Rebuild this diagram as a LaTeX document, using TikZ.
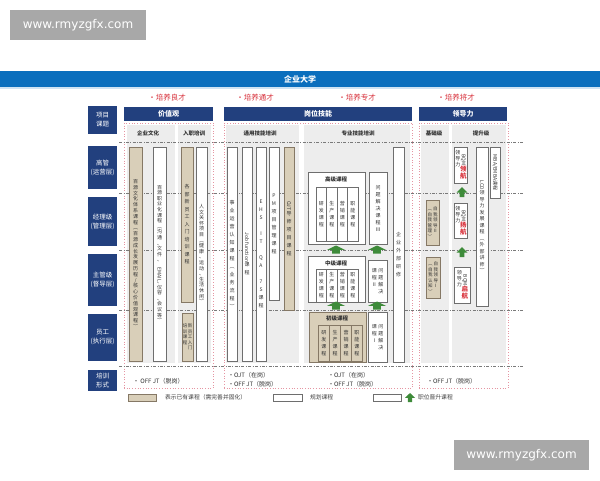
\documentclass[tikz,border=0pt]{standalone}
\usepackage{fontspec}
\usepackage{graphicx}
\setmainfont{Noto Sans CJK SC}
\newfontfamily\wmfont{DejaVu Sans}
\definecolor{navy}{HTML}{22407E}
\definecolor{bannerC}{HTML}{0A6EBD}
\definecolor{bannerL}{HTML}{CFE3F3}
\definecolor{tanC}{HTML}{D9CFB9}
\definecolor{tanB}{HTML}{857865}
\definecolor{planB}{HTML}{6E6E6E}
\definecolor{panelC}{HTML}{EDEDED}
\definecolor{pinkC}{HTML}{E595A2}
\definecolor{sepC}{HTML}{7A7A7A}
\definecolor{redC}{HTML}{D8313B}
\definecolor{arrowC}{HTML}{3E8B3A}
\definecolor{wmC}{HTML}{A8A8A8}
\definecolor{txtC}{HTML}{333333}
\newlength\vtw
\setlength\vtw{6pt}
\makeatletter
\newcommand\vtext[2][7pt]{\vtop{\baselineskip=#1\lineskiplimit=0pt\lineskip=0.6pt\@tfor\vch:=#2\do{\hbox to\vtw{\hss\vch\hss}}}}
\makeatother
\newcommand\bx[7]{\node[#2,minimum width={#5pt-#3pt},minimum height={#6pt-#4pt},inner sep=0pt,outer sep=0pt] (#1) at ({(#3+#5)/2},{(#4+#6)/2}) {#7};}
\newcommand\garrow[4]{\fill[arrowC] ({#1},{#2-#4/2}) -- ({#1+#3/2},{#2+0.05*#4}) -- ({#1+0.22*#3},{#2+0.05*#4}) -- ({#1+0.22*#3},{#2+#4/2}) -- ({#1-0.22*#3},{#2+#4/2}) -- ({#1-0.22*#3},{#2+0.05*#4}) -- ({#1-#3/2},{#2+0.05*#4}) -- cycle;}
\begin{document}
\begin{tikzpicture}[x=1pt,y=-1pt,
  every node/.style={inner sep=0pt,outer sep=0pt},
  hdr/.style={fill=navy,text=white,font=\fontsize{7}{8}\selectfont\bfseries},
  side/.style={fill=navy,text=white,align=center,font=\fontsize{6.5}{9}\selectfont},
  sect/.style={draw=pinkC,dotted,line width=0.7pt},
  panel/.style={fill=panelC},
  tanbox/.style={fill=tanC,draw=tanB,line width=0.6pt,text=txtC,font=\fontsize{5}{6}\selectfont},
  planbox/.style={fill=white,draw=planB,line width=0.6pt,text=txtC,font=\fontsize{5}{6}\selectfont},
  sub/.style={text=txtC,font=\fontsize{5.5}{6}\selectfont\bfseries},
  redlab/.style={text=redC,font=\fontsize{7.5}{8}\selectfont},
  form/.style={anchor=west,text=txtC,font=\fontsize{6}{7}\selectfont},
  legtext/.style={anchor=west,font=\fontsize{5.8}{7}\selectfont,text=black!75},
  sepline/.style={draw=sepC,line width=0.6pt,dash pattern=on 3pt off 1.5pt on 0.8pt off 1.5pt},
]
\useasboundingbox (0,0) rectangle (600,480);
\fill[white] (0,0) rectangle (600,480);
% watermarks
\bx{wm1}{fill=wmC,text=white,font=\wmfont\fontsize{12}{13}\selectfont}{10}{10}{146}{40}{www.rmyzgfx.com}
\bx{wm2}{fill=wmC,text=white,font=\wmfont\fontsize{12}{13}\selectfont}{454}{440}{589}{470}{www.rmyzgfx.com}
% banner
\fill[bannerL] (0,87) rectangle (600,89);
\bx{banner}{fill=bannerC,text=white,font=\fontsize{8}{9}\selectfont\bfseries}{0}{71}{600}{87}{企业大学}
% red labels
\node[redlab] (R1) at (167,98) {•培养良才};
\node[redlab] (R2) at (255,98) {•培养通才};
\node[redlab] (R3) at (357,98) {•培养专才};
\node[redlab] (R4) at (456,98) {•培养将才};
% left column
\bx{L0}{side}{88}{106}{117}{134}{项目\\课题}
\bx{L1}{side}{88}{146}{117}{189}{高管\\(运营层)}
\bx{L2}{side}{88}{197}{117}{246}{经理级\\(管理层)}
\bx{L3}{side}{88}{254}{117}{306}{主管级\\(督导层)}
\bx{L4}{side}{88}{314}{117}{361}{员工\\(执行层)}
\bx{L5}{side}{88}{370}{117}{391}{培训\\形式}
% section containers
\bx{S1}{sect}{124}{123}{213}{388}{}
\bx{S2}{sect}{224}{123}{412}{388}{}
\bx{S3}{sect}{419}{123}{508}{388}{}
% panels
\bx{P1}{panel}{127}{125}{175}{363}{}
\bx{P2}{panel}{178}{125}{211}{363}{}
\bx{P3}{panel}{226}{125}{299}{363}{}
\bx{P4}{panel}{304}{125}{410}{363}{}
\bx{P5}{panel}{421}{125}{449}{363}{}
\bx{P6}{panel}{452}{125}{506}{363}{}
% headers
\bx{H1}{hdr}{124}{107}{213}{121}{价值观}
\bx{H2}{hdr}{224}{107}{412}{121}{岗位技能}
\bx{H3}{hdr}{419}{107}{507}{121}{领导力}
% sub labels
\node[sub] (s1) at (148,133) {企业文化};
\node[sub] (s2) at (194,133) {入职培训};
\node[sub] (s3) at (260,133) {通用技能培训};
\node[sub] (s4) at (358,133) {专业技能培训};
\node[sub] (s5) at (434,133) {基础级};
\node[sub] (s6) at (481,133) {提升级};
% separator lines
\foreach \yy in {142,193,250,310,366} \draw[sepline] (119,\yy) -- (524,\yy);
% section 1
\bx{A}{tanbox}{129}{147}{142}{361}{\vtext[5.8pt]{百源文化体系课程︵百源成长发展历程/核心价值观课程︶}}
\bx{B}{planbox}{153}{147}{166}{361}{\vtext[5.6pt]{百源职业化课程︵沟通、文件、{\rotatebox{-90}{EMAIL}}、仪容、会议等︶}}
\bx{C}{tanbox}{181}{147}{193}{302}{\vtext[7.5pt]{各部新员工入门培训课程}}
\bx{D}{planbox}{196}{147}{207}{361}{\vtext[5.6pt]{人文关怀项目︵健康、运动、生活休闲︶}}
\bx{E}{tanbox}{182}{313}{193}{361}{\fontsize{4.5}{5}\selectfont\setlength\vtw{5pt}\vtext[5.5pt]{培训课程}\vtext[5.5pt]{新员工入门}}
% section 2 general
\bx{G1}{planbox}{227}{147}{237}{361}{\vtext[8pt]{事业运营认知课程︵业务流程︶}}
\bx{G2}{planbox}{242}{147}{252}{361}{\vtext[8pt]{{\rotatebox{-90}{Job function}}课程}}
\bx{G3}{planbox}{256}{147}{266}{361}{\vtext[8pt]{EHS{}IT{}QA{}7S课程}}
\bx{G4}{planbox}{269}{147}{279}{300}{\vtext[8pt]{PM项目管理课程}}
\bx{G5}{tanbox}{284}{147}{294}{310}{\vtext[8pt]{{\rotatebox{-90}{OJT}}导师项目课程}}
% section 2 professional
\bx{HI}{planbox}{308}{172}{365}{244}{}
\node[sub] (HIl) at (336,179) {高级课程};
\bx{HI1}{planbox}{316}{187}{326.5}{241}{\vtext[7pt]{研发课程}}
\bx{HI2}{planbox}{326.5}{187}{337}{241}{\vtext[7pt]{生产课程}}
\bx{HI3}{planbox}{337}{187}{347.5}{241}{\vtext[7pt]{营销课程}}
\bx{HI4}{planbox}{347.5}{187}{358}{241}{\vtext[7pt]{职能课程}}
\bx{HIP}{planbox}{369}{172}{387}{244}{\vtext[7pt]{问题解决课程Ⅲ}}
\bx{MI}{planbox}{308}{256}{365}{302}{}
\node[sub] (MIl) at (336,263) {中级课程};
\bx{MI1}{planbox}{316}{269}{326.5}{302}{\vtext[7pt]{研发课程}}
\bx{MI2}{planbox}{326.5}{269}{337}{302}{\vtext[7pt]{生产课程}}
\bx{MI3}{planbox}{337}{269}{347.5}{302}{\vtext[7pt]{营销课程}}
\bx{MI4}{planbox}{347.5}{269}{358}{302}{\vtext[7pt]{职能课程}}
\bx{MIP}{planbox}{368}{260}{387}{302}{\vtext[7pt]{课程Ⅱ}\kern0.5pt\vtext[7pt]{问题解决}}
\bx{LO}{tanbox}{309}{312}{366}{362}{}
\node[sub] (LOl) at (337,318) {初级课程};
\bx{LO1}{tanbox}{318}{325}{329.5}{361}{\vtext[7pt]{研发课程}}
\bx{LO2}{tanbox}{329.5}{325}{340.5}{361}{\vtext[7pt]{生产课程}}
\bx{LO3}{tanbox}{340.5}{325}{351.5}{361}{\vtext[7pt]{营销课程}}
\bx{LO4}{tanbox}{351.5}{325}{362}{361}{\vtext[7pt]{职能课程}}
\bx{LOP}{planbox}{368}{312}{387}{362}{\vtext[7pt]{课程Ⅰ}\kern0.5pt\vtext[7pt]{问题解决}}
\bx{EXT}{planbox}{393}{147}{404}{362}{\vtext[8pt]{企业外部研修}}
\garrow{336}{249.5}{18}{8}
\garrow{377}{249.5}{18}{8}
\garrow{336}{305.5}{18}{8}
\garrow{377}{305.5}{18}{8}
% section 3
\bx{BQ1}{planbox}{454}{147}{467}{183}{\setlength\vtw{5.5pt}\vtext[6pt]{领导力}\vtext[6pt]{{\rotatebox{-90}{BQM}}{\fontsize{6.5}{7}\selectfont\color{redC}\bfseries 领}{\fontsize{6.5}{7}\selectfont\color{redC}\bfseries 航}}}
\bx{BQ2}{planbox}{454}{203}{467}{238}{\setlength\vtw{5.5pt}\vtext[6pt]{领导力}\vtext[6pt]{{\rotatebox{-90}{BQM}}{\fontsize{6.5}{7}\selectfont\color{redC}\bfseries 扬}{\fontsize{6.5}{7}\selectfont\color{redC}\bfseries 航}}}
\bx{BQ3}{planbox}{454}{267}{470}{303}{\setlength\vtw{5.5pt}\vtext[6pt]{领导力}\vtext[6pt]{{\rotatebox{-90}{BQM}}{\fontsize{6.5}{7}\selectfont\color{redC}\bfseries 启}{\fontsize{6.5}{7}\selectfont\color{redC}\bfseries 航}}}
\garrow{462}{192}{11}{10}
\garrow{462}{252}{11}{10}
\bx{LCD}{planbox}{476}{147}{488}{306}{\vtext[6.5pt]{{\rotatebox{-90}{LCD}}领导力发展课程︵外部讲师︶}}
\bx{MBA}{planbox}{490}{147}{500}{198}{\rotatebox{-90}{MBA/EMBA课程}}
\bx{BA2}{tanbox}{426}{200}{439}{245}{\fontsize{4.5}{5}\selectfont\setlength\vtw{5.5pt}\vtext[5.5pt]{︵自我管理︶}\vtext[5.5pt]{自我领导Ⅱ}}
\bx{BA1}{tanbox}{426}{257}{440}{298}{\fontsize{4.5}{5}\selectfont\setlength\vtw{5.5pt}\vtext[5.5pt]{︵自我认知︶}\vtext[5.5pt]{自我领导Ⅰ}}
% training form
\node[form] (F1) at (133,381) {• OFF JT（脱岗）};
\node[form] (F2) at (228,375) {•OJT（在岗）};
\node[form] (F3) at (228,384) {•OFF JT（脱岗）};
\node[form] (F4) at (328,375) {•OJT（在岗）};
\node[form] (F5) at (328,384) {•OFF JT（脱岗）};
\node[form] (F6) at (427,381) {•OFF JT（脱岗）};
% legend
\bx{LG1}{tanbox}{128}{394}{156}{401}{}
\node[legtext] (LT1) at (165,397.5) {表示已有课程（需完善并固化）};
\bx{LG2}{planbox}{273}{394}{302}{401}{}
\node[legtext] (LT2) at (310,397.5) {规划课程};
\bx{LG3}{planbox}{373}{394}{401}{401}{}
\garrow{410}{397.5}{10}{9}
\node[legtext] (LT3) at (418,397.5) {职位晋升课程};
\end{tikzpicture}
\end{document}
